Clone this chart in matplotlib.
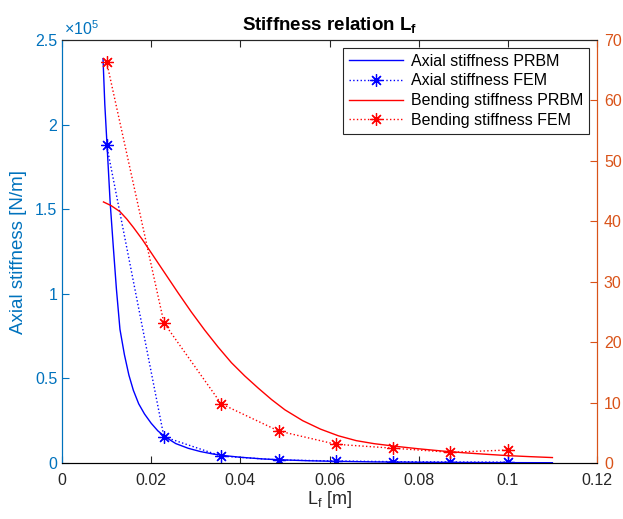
import numpy as np
import matplotlib
matplotlib.use('Agg')
import matplotlib.pyplot as plt

plt.rcParams['font.family'] = ['Liberation Sans', 'DejaVu Sans']
plt.rcParams['mathtext.fontset'] = 'custom'
plt.rcParams['mathtext.rm'] = 'Liberation Sans'
plt.rcParams['mathtext.it'] = 'Liberation Sans:italic'
plt.rcParams['mathtext.bf'] = 'Liberation Sans:bold'

# %% data
L_prbm_ax = [0.0092, 0.0096, 0.0101, 0.0108, 0.0115, 0.0122, 0.0130, 0.0140, 0.0150,
             0.0160, 0.0172, 0.0185, 0.0200, 0.0215, 0.0231, 0.0255, 0.0283, 0.0310,
             0.0339, 0.037, 0.040, 0.045, 0.050, 0.055, 0.060, 0.070, 0.080, 0.090,
             0.100, 0.110]
k_prbm_ax = [2.39e5, 2.12e5, 1.88e5, 1.54e5, 1.28e5, 1.03e5, 7.9e4, 6.4e4, 5.2e4,
             4.3e4, 3.5e4, 2.9e4, 2.35e4, 1.9e4, 1.55e4, 1.15e4, 8.7e3, 6.8e3,
             5.3e3, 4.2e3, 3.4e3, 2.4e3, 1.8e3, 1.35e3, 1.05e3, 6.5e2, 4.4e2, 3.1e2,
             2.2e2, 1.6e2]

L_fem = [0.01, 0.02286, 0.03571, 0.04857, 0.06143, 0.07429, 0.08714, 0.1]
k_fem_ax = [1.88e5, 1.55e4, 4.1e3, 1.8e3, 1.2e3, 8.0e2, 6.0e2, 5.0e2]

L_prbm_bend = [0.0093, 0.0110, 0.0130, 0.0145, 0.0160, 0.0180, 0.0200, 0.0230, 0.0260,
               0.0290, 0.0320, 0.0350, 0.0380, 0.0410, 0.0440, 0.0470, 0.0500, 0.0540,
               0.0580, 0.0620, 0.0660, 0.0700, 0.0750, 0.0800, 0.0850, 0.0900, 0.0950,
               0.1000, 0.1050, 0.1100]
k_prbm_bend = [43.2, 42.6, 41.6, 40.4, 39.0, 37.0, 34.8, 31.5, 28.2,
               25.0, 22.0, 19.2, 16.6, 14.4, 12.4, 10.5, 8.8, 7.0,
               5.6, 4.5, 3.7, 3.2, 2.75, 2.35, 2.0, 1.7, 1.45,
               1.22, 1.05, 0.9]

k_fem_bend = [66.4, 23.2, 9.8, 5.3, 3.1, 2.45, 1.77, 2.15]

c_left = '#0072BD'
c_right = '#D95319'
c_axis = '#262626'
star = (8, 2, 0)

# %% plot
fig = plt.figure(figsize=(6.23, 5.19), dpi=100)
ax = fig.add_axes([62/623, 1-463/519, 535/623, 423/519])

l1, = ax.plot(L_prbm_ax, k_prbm_ax, 'b-', lw=1.0, label='Axial stiffness PRBM')
l2, = ax.plot(L_fem, k_fem_ax, 'b:', marker=star, ms=9, mew=0.9, lw=1.0,
              label='Axial stiffness FEM')
ax.set_xlim(0, 0.12)
ax.set_ylim(0, 2.5e5)
ax.set_xticks([0, 0.02, 0.04, 0.06, 0.08, 0.1, 0.12])
ax.set_xticklabels(['0', '0.02', '0.04', '0.06', '0.08', '0.1', '0.12'])
ax.set_yticks([0, 0.5e5, 1e5, 1.5e5, 2e5, 2.5e5])
ax.set_yticklabels(['0', '0.5', '1', '1.5', '2', '2.5'])
ax.tick_params(direction='in', length=5, labelsize=11.5, top=True, colors=c_axis)
ax.tick_params(axis='x', pad=7)
ax.tick_params(axis='y', colors=c_left)
ax.text(0.003, 1.004, r'$\times\mathregular{10^5}$', transform=ax.transAxes,
        color=c_left, fontsize=11.5, ha='left', va='bottom')
ax.set_xlabel(r'$\mathrm{L_f}$ [m]', fontsize=13, color=c_axis, labelpad=1)
ax.set_ylabel('Axial stiffness [N/m]', fontsize=13.5, color=c_left, labelpad=6)
ax.spines['left'].set_color(c_left)
ax.spines['top'].set_color(c_axis)
ax.spines['bottom'].set_color(c_axis)
ax.spines['right'].set_color(c_right)

ax2 = ax.twinx()
l3, = ax2.plot(L_prbm_bend, k_prbm_bend, 'r-', lw=1.0, label='Bending stiffness PRBM')
l4, = ax2.plot(L_fem, k_fem_bend, 'r:', marker=star, ms=9, mew=0.9, lw=1.0,
               label='Bending stiffness FEM')
ax2.set_ylim(0, 70)
ax2.set_yticks(range(0, 71, 10))
ax2.tick_params(direction='in', length=5, labelsize=11.5, colors=c_right, pad=5)
ax2.spines['right'].set_color(c_right)
ax2.spines['left'].set_color(c_left)
ax2.spines['top'].set_color(c_axis)

ax.set_title(r'Stiffness relation $\mathbf{L_f}$', fontsize=13.5, fontweight='bold', pad=7)

leg = ax2.legend(handles=[l1, l2, l3, l4], loc='upper right', fontsize=11.5,
                 fancybox=False, edgecolor=c_axis, framealpha=1,
                 borderaxespad=0.5, handlelength=3.4, labelspacing=0.3,
                 handletextpad=0.5, borderpad=0.35)
leg.get_frame().set_linewidth(0.8)

plt.savefig('out.png', dpi=100)
